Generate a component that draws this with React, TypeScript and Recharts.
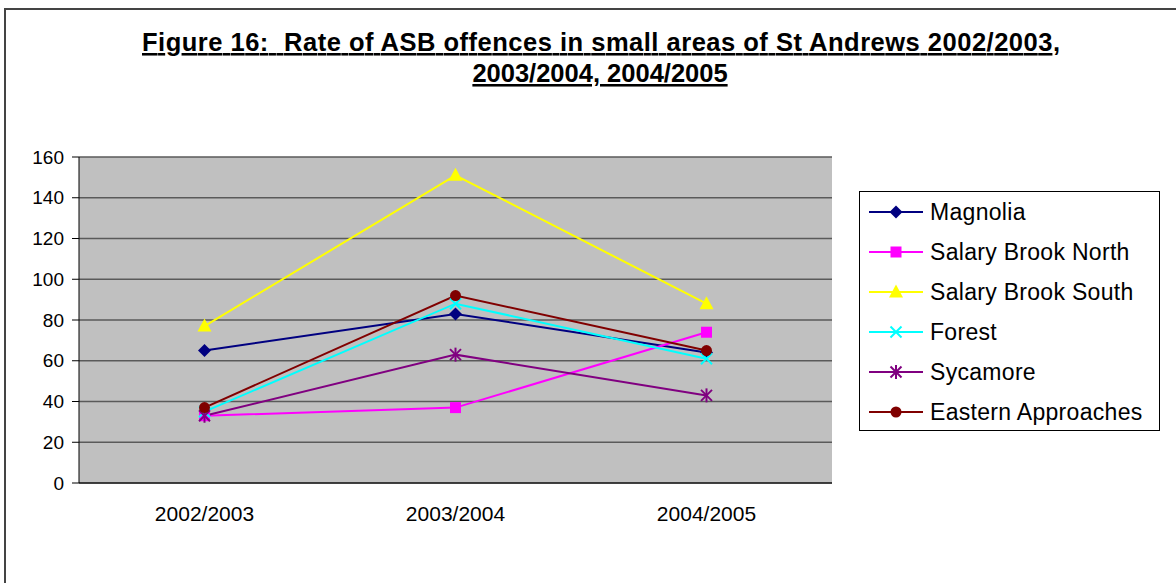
import React from 'react';
import { LineChart, Line, XAxis, YAxis, CartesianGrid, ReferenceLine } from 'recharts';

const periods = ['2002/2003', '2003/2004', '2004/2005'];
const magnolia = [65, 83, 64];
const salaryBrookNorth = [33, 37, 74];
const salaryBrookSouth = [77, 151, 88];
const forest = [35, 88, 61];
const sycamore = [33, 63, 43];
const easternApproaches = [37, 92, 65];
const yTicks = [0, 20, 40, 60, 80, 100, 120, 140, 160];
const boundaryTicks = [0, 1, 2, 3];

const FONT = '"Liberation Sans", Arial, Helvetica, sans-serif';

const series = [
  { key: 'magnolia', name: 'Magnolia', values: magnolia, color: '#000080', shape: 'diamond' },
  { key: 'sbn', name: 'Salary Brook North', values: salaryBrookNorth, color: '#FF00FF', shape: 'square' },
  { key: 'sbs', name: 'Salary Brook South', values: salaryBrookSouth, color: '#FFFF00', shape: 'triangle' },
  { key: 'forest', name: 'Forest', values: forest, color: '#00FFFF', shape: 'x' },
  { key: 'sycamore', name: 'Sycamore', values: sycamore, color: '#800080', shape: 'star' },
  { key: 'eastern', name: 'Eastern Approaches', values: easternApproaches, color: '#800000', shape: 'circle' },
];

const data = periods.map((p, i) => {
  const row: any = { period: p };
  series.forEach((s) => {
    row[s.key] = s.values[i];
  });
  return row;
});

function Marker({ shape, cx, cy, color }: { shape: string; cx: number; cy: number; color: string }) {
  if (cx == null || cy == null) return null;
  switch (shape) {
    case 'diamond':
      return <polygon points={`${cx},${cy - 6.5} ${cx + 6.5},${cy} ${cx},${cy + 6.5} ${cx - 6.5},${cy}`} fill={color} />;
    case 'square':
      return <rect x={cx - 5.5} y={cy - 5.5} width={11} height={11} fill={color} />;
    case 'triangle':
      return <polygon points={`${cx},${cy - 7.5} ${cx + 7},${cy + 5.5} ${cx - 7},${cy + 5.5}`} fill={color} />;
    case 'x':
      return (
        <g stroke={color} strokeWidth={2}>
          <line x1={cx - 5.5} y1={cy - 5.5} x2={cx + 5.5} y2={cy + 5.5} />
          <line x1={cx - 5.5} y1={cy + 5.5} x2={cx + 5.5} y2={cy - 5.5} />
        </g>
      );
    case 'star':
      return (
        <g stroke={color} strokeWidth={2}>
          <line x1={cx - 5.5} y1={cy - 5.5} x2={cx + 5.5} y2={cy + 5.5} />
          <line x1={cx - 5.5} y1={cy + 5.5} x2={cx + 5.5} y2={cy - 5.5} />
          <line x1={cx} y1={cy - 7} x2={cx} y2={cy + 7} />
        </g>
      );
    default:
      return <circle cx={cx} cy={cy} r={5.5} fill={color} />;
  }
}

function LegendBox() {
  return (
    <div
      style={{
        position: 'absolute',
        left: 859,
        top: 191,
        width: 301,
        height: 240,
        border: '1px solid #000',
        background: '#fff',
        boxSizing: 'border-box',
        fontFamily: FONT,
        fontSize: 23,
        color: '#000',
      }}
    >
      {series.map((s, i) => (
        <div
          key={s.key}
          style={{ position: 'absolute', left: 9, top: 40 * i, height: 40, display: 'flex', alignItems: 'center', whiteSpace: 'nowrap' }}
        >
          <svg width={54} height={20} style={{ display: 'block' }}>
            <line x1={0} y1={10} x2={54} y2={10} stroke={s.color} strokeWidth={2} />
            <Marker shape={s.shape} cx={27} cy={10} color={s.color} />
          </svg>
          <span style={{ marginLeft: 7, letterSpacing: 0.3 }}>{s.name}</span>
        </div>
      ))}
    </div>
  );
}

export default function App() {
  return (
    <div style={{ position: 'absolute', left: 0, top: 0, width: 1176, height: 583, background: '#fff', overflow: 'hidden' }}>
      <div
        style={{
          position: 'absolute',
          left: 4,
          top: 8,
          width: 1200,
          height: 600,
          borderLeft: '2px solid #444',
          borderTop: '2px solid #444',
        }}
      />
      <LineChart
        width={1176}
        height={583}
        data={data}
        margin={{ top: 157, right: 344, bottom: 59, left: 0 }}
        style={{ position: 'absolute', left: 0, top: 0 }}
      >
        <CartesianGrid xAxisId="b" fill="#C0C0C0" stroke="#5a5a5a" strokeWidth={1.5} vertical={false} />
        <XAxis
          xAxisId="b"
          type="number"
          domain={[0, 3]}
          ticks={boundaryTicks}
          tick={false}
          tickSize={6}
          tickLine={{ stroke: '#000' }}
          axisLine={{ stroke: '#000' }}
          height={1}
          allowDataOverflow
        />
        <XAxis
          xAxisId="cat"
          dataKey="period"
          padding={{ left: 125.5, right: 125.5 }}
          tickLine={false}
          axisLine={false}
          tickSize={0}
          tickMargin={22}
          height={40}
          interval={0}
          tick={{ fill: '#000', fontSize: 21, fontFamily: FONT }}
        />
        <YAxis
          domain={[0, 160]}
          ticks={yTicks}
          interval={0}
          width={79}
          tickSize={7}
          tickMargin={8}
          axisLine={{ stroke: '#000' }}
          tickLine={{ stroke: '#000' }}
          tick={{ fill: '#000', fontSize: 19, fontFamily: FONT }}
        />
        <ReferenceLine xAxisId="b" x={3} stroke="#808080" strokeWidth={2} />
        {series.map((s) => (
          <Line
            key={s.key}
            xAxisId="cat"
            type="linear"
            dataKey={s.key}
            name={s.name}
            stroke={s.color}
            strokeWidth={2}
            isAnimationActive={false}
            activeDot={false}
            dot={(p: any) => <Marker key={`${s.key}-${p.index}`} shape={s.shape} cx={p.cx} cy={p.cy} color={s.color} />}
          />
        ))}
      </LineChart>
      <LegendBox />
      <svg width={1176} height={100} style={{ position: 'absolute', left: 0, top: 0 }}>
        <text
          x={601}
          y={51}
          textAnchor="middle"
          fontFamily={FONT}
          fontWeight="bold"
          fontSize={25.5}
          fill="#000"
          textLength={918}
          lengthAdjust="spacing"
          style={{ textDecoration: 'underline', whiteSpace: 'pre' }}
        >
          {'Figure 16:  Rate of ASB offences in small areas of St Andrews 2002/2003,'}
        </text>
        <text
          x={600}
          y={82}
          textAnchor="middle"
          fontFamily={FONT}
          fontWeight="bold"
          fontSize={25.5}
          fill="#000"
          style={{ textDecoration: 'underline', whiteSpace: 'pre' }}
        >
          2003/2004, 2004/2005
        </text>
      </svg>
    </div>
  );
}
